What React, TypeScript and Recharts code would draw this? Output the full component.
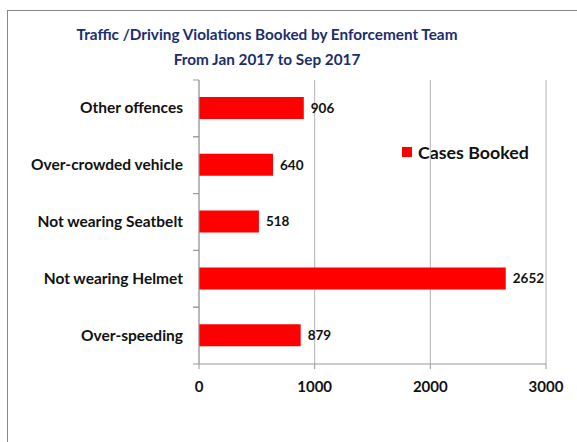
import { BarChart, Bar, XAxis, YAxis, CartesianGrid, LabelList } from "recharts"

const categories = ["Other offences", "Over-crowded vehicle", "Not wearing Seatbelt", "Not wearing Helmet", "Over-speeding"]
const casesBooked = [906, 640, 518, 2652, 879]
const xTicks = [0, 1000, 2000, 3000]

const data = categories.map((name, i) => ({ name, cases: casesBooked[i] }))

const FONT = "Lato, 'Open Sans', sans-serif"

// category label with Excel-style tick marks between categories
function CategoryTick(props: any) {
  const { x, y, payload } = props
  const off = payload && payload.offset ? payload.offset : 28
  const axisX = x + 16
  return (
    <g>
      <line x1={axisX - 6} x2={axisX} y1={y - off} y2={y - off} stroke="#999" />
      <line x1={axisX - 6} x2={axisX} y1={y + off} y2={y + off} stroke="#999" />
      <text x={x} y={y} dy={5} textAnchor="end" fontFamily={FONT} fontWeight={700} fontSize={15.5} fill="#111">
        {payload.value}
      </text>
    </g>
  )
}

export default function App() {
  return (
    <div style={{ position: "absolute", left: 0, top: 0, width: 577, height: 442, overflow: "hidden", background: "#fff" }}>
      <div style={{ position: "absolute", left: 7, top: 10, width: 620, height: 500, border: "1px solid #888" }} />
      <div
        style={{
          position: "absolute",
          left: 0,
          top: 22,
          width: 534,
          textAlign: "center",
          fontFamily: FONT,
          fontWeight: 700,
          fontSize: 15.3,
          lineHeight: "25px",
          color: "#1a2e6e",
        }}
      >
        Traffic /Driving Violations Booked by Enforcement Team
        <br />
        From Jan 2017 to Sep 2017
      </div>
      <div
        style={{
          position: "absolute",
          left: 402,
          top: 141,
          display: "flex",
          alignItems: "center",
          fontFamily: FONT,
          fontWeight: 700,
          fontSize: 17.8,
          color: "#111",
        }}
      >
        <span style={{ display: "inline-block", width: 10, height: 10, background: "#ff0000", marginRight: 6 }} />
        Cases Booked
      </div>
      <div style={{ position: "absolute", left: 0, top: 0 }}>
        <BarChart
          width={577}
          height={442}
          data={data}
          layout="vertical"
          margin={{ top: 80, right: 31, left: 0, bottom: 48 }}
        >
          <CartesianGrid horizontal={false} stroke="#b4b4b4" />
          <XAxis
            type="number"
            domain={[0, 3000]}
            ticks={xTicks}
            height={30}
            axisLine={{ stroke: "#999" }}
            tickLine={{ stroke: "#999" }}
            tickSize={5}
            tickMargin={12}
            tick={{ fontFamily: FONT, fontWeight: 700, fontSize: 15, fill: "#111" }}
          />
          <YAxis
            type="category"
            dataKey="name"
            width={199}
            axisLine={{ stroke: "#999" }}
            tickLine={false}
            tickSize={0}
            tickMargin={16}
            tick={<CategoryTick />}
          />
          <Bar dataKey="cases" name="Cases Booked" fill="#ff0000" barSize={22} isAnimationActive={false}>
            <LabelList
              dataKey="cases"
              position="right"
              offset={7}
              style={{ fontFamily: FONT, fontWeight: 700, fontSize: 13.5, fill: "#111" }}
            />
          </Bar>
        </BarChart>
      </div>
    </div>
  )
}
